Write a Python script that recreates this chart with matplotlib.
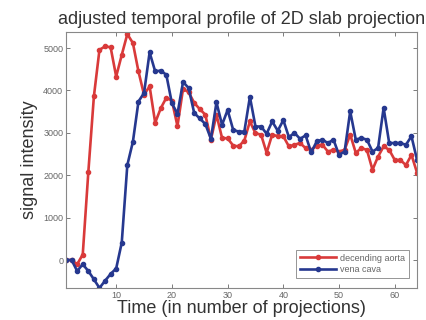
import matplotlib
matplotlib.use('Agg')
import matplotlib.pyplot as plt
import numpy as np

plt.rcParams['font.family'] = ['Liberation Sans', 'DejaVu Sans']

t = np.arange(1, 65)
aorta = [0, 0, -100, 130, 2070, 3860, 4960, 5040, 5020, 4330,
         4840, 5330, 5120, 4450, 3900, 4100, 3240, 3580, 3830, 3760,
         3160, 4040, 3960, 3710, 3560, 3430, 2840, 3430, 2880, 2870,
         2700, 2680, 2820, 3270, 2990, 2960, 2530, 2960, 2920, 2920,
         2680, 2720, 2760, 2640, 2600, 2700, 2720, 2560, 2600, 2560,
         2600, 2960, 2530, 2640, 2600, 2130, 2440, 2680, 2600, 2360,
         2360, 2240, 2480, 2060]
cava = [0, 0, -260, -100, -260, -455, -660, -490, -330, -200,
        410, 2240, 2790, 3740, 3940, 4900, 4450, 4470, 4370, 3700,
        3450, 4200, 4060, 3470, 3340, 3210, 2860, 3720, 3190, 3540,
        3070, 3030, 3030, 3850, 3150, 3150, 2980, 3270, 3050, 3300,
        2900, 3000, 2860, 2940, 2540, 2800, 2840, 2760, 2840, 2480,
        2560, 3510, 2840, 2880, 2840, 2560, 2640, 3590, 2760, 2760,
        2760, 2720, 2920, 2360]
labels = ['decending aorta', 'vena cava']

red = '#d93a3a'
blue = '#26388f'
grey = '#666666'

fig = plt.figure(figsize=(4.26, 3.2), dpi=100)
ax = fig.add_axes([0.155, 0.1, 0.824, 0.8])

ax.plot(t, aorta, '-o', color=red, lw=1.9, ms=3, label=labels[0])
ax.plot(t, cava, '-o', color=blue, lw=1.9, ms=3, label=labels[1])

ax.set_xlim(1, 64)
ax.set_ylim(min(cava), max(aorta) + 50)
ax.set_xticks([10, 20, 30, 40, 50, 60])
ax.set_yticks([0, 1000, 2000, 3000, 4000, 5000])
ax.tick_params(direction='in', top=True, right=True, length=3, width=0.6,
               labelsize=6.5, colors=grey, pad=2)
for s in ax.spines.values():
    s.set_color('#888888')
    s.set_linewidth(0.8)

ax.set_title('adjusted temporal profile of 2D slab projection', fontsize=13,
             color='#333333', pad=6)
ax.set_xlabel('Time (in number of projections)', fontsize=13, color='#333333', labelpad=0)
ax.set_ylabel('signal intensity', fontsize=13, color='#333333', labelpad=4)

leg = ax.legend(loc='lower right', fontsize=6.5, frameon=True, fancybox=False,
                handlelength=4, borderpad=0.45, labelspacing=0.3, handletextpad=0.4,
                bbox_to_anchor=(0.99, 0.02))
leg.get_frame().set_edgecolor('#666666')
leg.get_frame().set_linewidth(0.6)
for txt in leg.get_texts():
    txt.set_color(grey)

plt.savefig('out.png', dpi=100)
